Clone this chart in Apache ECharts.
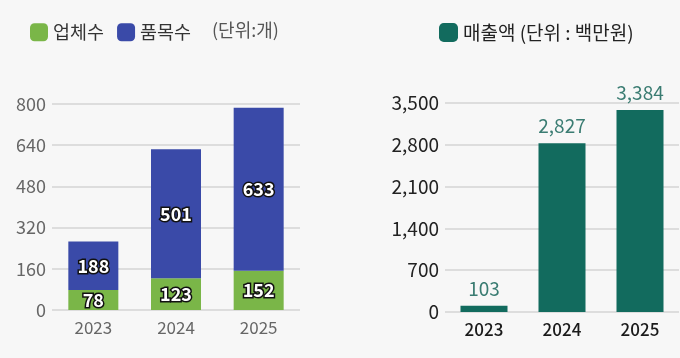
<!DOCTYPE html>
<html><head><meta charset="utf-8">
<script src="https://cdn.jsdelivr.net/npm/echarts@6/dist/echarts.min.js"></script>
<style>html,body{margin:0;padding:0;background:#f7f7f7;}#c{width:680px;height:358px;}</style>
</head><body><div id="c"></div>
<script>
const years = ['2023','2024','2025'];
const companies = [78, 123, 152];
const products = [188, 501, 633];
const sales = [103, 2827, 3384];
const leftTicks = {min:0, max:800, interval:160};
const rightTicks = {min:0, max:3500, interval:700};
const FONT = '"Noto Sans CJK KR", "Noto Sans", sans-serif';
const chart = echarts.init(document.getElementById('c'));
const inLabel = {show:true, position:'inside', color:'#fff', fontSize:18, fontWeight:'bold', fontFamily:FONT, textBorderColor:'#111', textBorderWidth:3};
chart.setOption({
  backgroundColor:'#f7f7f7',
  animation:false,
  textStyle:{fontFamily:FONT},
  legend:[
    {left:25, top:18, itemWidth:18, itemHeight:18, itemGap:13, icon:'roundRect', data:['업체수','품목수'], textStyle:{fontSize:18.5, color:'#333', fontFamily:FONT}},
    {left:434, top:18, itemWidth:19, itemHeight:19, icon:'roundRect', data:['매출액 (단위 : 백만원)'], textStyle:{fontSize:19, color:'#222', fontFamily:FONT}}
  ],
  graphic:[{type:'text', left:212, top:21, style:{text:'(단위:개)', fontSize:18, fill:'#555', fontFamily:FONT}}],
  grid:[
    {left:52, right:380, top:104, bottom:48},
    {left:445, right:1, top:103, bottom:46}
  ],
  xAxis:[
    {gridIndex:0, type:'category', data:years, axisLine:{show:false}, axisTick:{show:false}, axisLabel:{fontSize:17, color:'#666', margin:9, fontFamily:FONT}},
    {gridIndex:1, type:'category', data:years, axisLine:{show:false}, axisTick:{show:false}, axisLabel:{fontSize:17, color:'#1a1a1a', margin:9, fontFamily:FONT, fontWeight:500}}
  ],
  yAxis:[
    {gridIndex:0, type:'value', min:leftTicks.min, max:leftTicks.max, interval:leftTicks.interval, axisLabel:{fontSize:18, color:'#666', margin:6, fontFamily:FONT}, splitLine:{lineStyle:{color:'#d4d4d4', width:1.5}}},
    {gridIndex:1, type:'value', min:rightTicks.min, max:rightTicks.max, interval:rightTicks.interval, axisLabel:{fontSize:19, color:'#222', margin:6, fontFamily:FONT, formatter:v=>v.toLocaleString('en-US')}, splitLine:{lineStyle:{color:'#d4d4d4', width:1.5}}}
  ],
  series:[
    {name:'업체수', type:'bar', stack:'a', xAxisIndex:0, yAxisIndex:0, data:companies, barWidth:50, itemStyle:{color:'#7ab648'}, label:inLabel},
    {name:'품목수', type:'bar', stack:'a', xAxisIndex:0, yAxisIndex:0, data:products, barWidth:50, itemStyle:{color:'#3a4aa8'}, label:inLabel},
    {name:'매출액 (단위 : 백만원)', type:'bar', xAxisIndex:1, yAxisIndex:1, data:sales, barWidth:47, itemStyle:{color:'#126b5e'}, label:{show:true, position:'top', distance:8, fontSize:19, color:'#3a7c72', fontFamily:FONT, formatter:p=>p.value.toLocaleString('en-US')}}
  ]
});
</script></body></html>
